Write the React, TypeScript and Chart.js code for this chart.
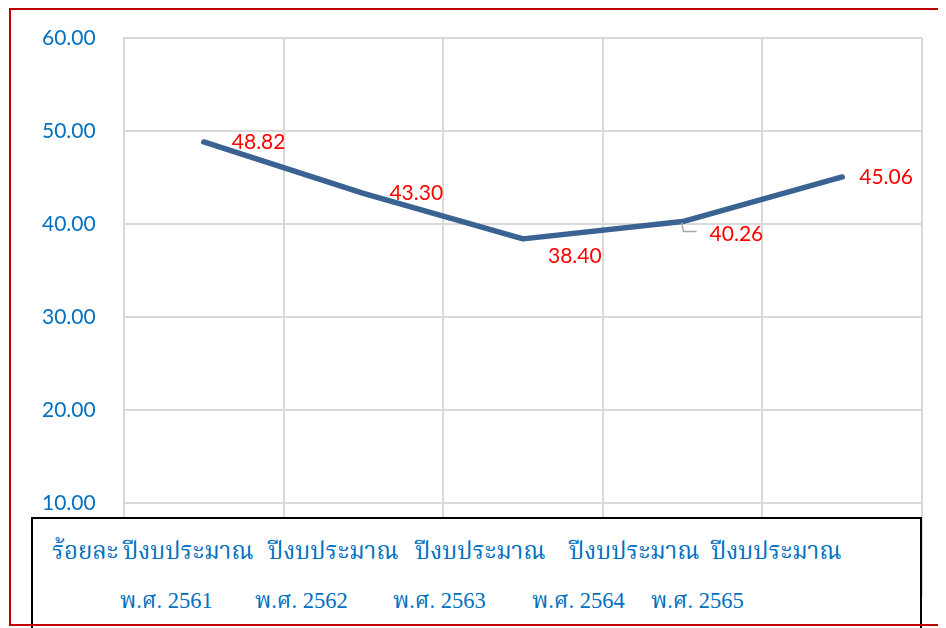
import React, { useEffect, useRef } from "react";
import { Chart, registerables } from "chart.js";

Chart.register(...registerables);

// ---- data ----
const categories = ["พ.ศ. 2561", "พ.ศ. 2562", "พ.ศ. 2563", "พ.ศ. 2564", "พ.ศ. 2565"];
const values = [48.82, 43.3, 38.4, 40.26, 45.06];
const yMin = 0;
const yMax = 60;
const yStep = 10;
const unitLabel = "ร้อยละ";
const yearPrefix = "ปีงบประมาณ";

// ---- styles ----
const LINE_COLOR = "#3A6394";
const TICK_COLOR = "#0070C0";
const LABEL_COLOR = "#FF0000";
const GRID_COLOR = "#D9D9D9";
const NUM_FONT = "Lato, 'Open Sans', sans-serif";
const THAI_FONT =
  "'Liberation Serif', 'Noto Serif Thai', Norasi, Kinnari, 'Tlwg Typo', 'Noto Sans Thai Looped', 'Noto Sans Thai', serif";
const labelOffsets = [
  [28, 0],
  [26, 0],
  [25, 17],
  [27, 13],
  [17, 0],
];
const row1Left = [19, 90, 235, 382, 536, 678];
const row2Left = [87, 222, 360, 499, 618];

const dataLabelPlugin = {
  id: "dataLabels",
  afterDatasetsDraw(chart: any) {
    const ctx = chart.ctx;
    const meta = chart.getDatasetMeta(0);
    ctx.save();
    ctx.font = `21px ${NUM_FONT}`;
    ctx.fillStyle = LABEL_COLOR;
    ctx.textAlign = "left";
    ctx.textBaseline = "middle";
    meta.data.forEach((pt: any, i: number) => {
      const [dx, dy] = labelOffsets[i];
      ctx.fillText(values[i].toFixed(2), pt.x + dx, pt.y + dy);
      if (i === 3) {
        ctx.strokeStyle = "#A6A6A6";
        ctx.lineWidth = 1.5;
        ctx.beginPath();
        ctx.moveTo(pt.x - 1, pt.y + 1);
        ctx.lineTo(pt.x + 1, pt.y + 10);
        ctx.lineTo(pt.x + 14, pt.y + 10);
        ctx.stroke();
      }
    });
    ctx.restore();
  },
};

export default function App() {
  const canvasRef = useRef<HTMLCanvasElement | null>(null);

  useEffect(() => {
    document.body.style.overflow = "hidden";
    document.documentElement.style.overflow = "hidden";
    const canvas = canvasRef.current!;
    const chart = new Chart(canvas, {
      type: "line",
      data: {
        labels: categories,
        datasets: [
          {
            data: values,
            borderColor: LINE_COLOR,
            borderWidth: 5.5,
            pointRadius: 0,
            pointHoverRadius: 0,
            tension: 0,
            borderCapStyle: "round",
            borderJoinStyle: "round",
          },
        ],
      },
      options: {
        animation: false,
        responsive: false,
        devicePixelRatio: 1,
        layout: { padding: { left: 34, right: 24, top: 30, bottom: 32 } },
        plugins: { legend: { display: false }, tooltip: { enabled: false } },
        scales: {
          x: {
            offset: true,
            grid: { offset: true, color: GRID_COLOR, lineWidth: 2, drawTicks: false },
            border: { display: false },
            ticks: { display: false, padding: 0 },
            afterFit: (s: any) => {
              s.height = 0;
            },
          },
          y: {
            min: yMin,
            max: yMax,
            ticks: {
              stepSize: yStep,
              color: TICK_COLOR,
              font: { family: NUM_FONT, size: 21 },
              padding: 0,
              crossAlign: "far",
              callback: (v: any) => Number(v).toFixed(2),
            },
            grid: { color: GRID_COLOR, lineWidth: 2, drawTicks: false },
            border: { display: true, color: GRID_COLOR, width: 2 },
            afterFit: (s: any) => {
              s.width = 82;
            },
          },
        },
      },
      plugins: [dataLabelPlugin],
    });
    return () => chart.destroy();
  }, []);

  const textStyle: React.CSSProperties = {
    position: "absolute",
    color: TICK_COLOR,
    fontFamily: THAI_FONT,
    whiteSpace: "nowrap",
  };

  return (
    <div style={{ position: "relative", width: 938, height: 620, overflow: "hidden" }}>
      <canvas
        ref={canvasRef}
        width={938}
        height={620}
        style={{ position: "absolute", left: 0, top: 0, width: 938, height: 620 }}
      />
      <div
        style={{
          position: "absolute",
          left: 23,
          top: 509,
          width: 891,
          height: 140,
          boxSizing: "border-box",
          border: "2px solid #000",
          background: "#fff",
        }}
      >
        {[unitLabel, ...categories.map(() => yearPrefix)].map((t, i) => (
          <span key={"a" + i} style={{ ...textStyle, left: row1Left[i], top: 14, fontSize: 24 }}>
            {t}
          </span>
        ))}
        {categories.map((t, i) => (
          <span key={"b" + i} style={{ ...textStyle, left: row2Left[i], top: 65, fontSize: 22.5 }}>
            {t}
          </span>
        ))}
      </div>
      <div
        style={{
          position: "absolute",
          left: 1,
          top: 0,
          width: 937,
          height: 618,
          boxSizing: "border-box",
          borderTop: "2px solid #C00000",
          borderLeft: "2px solid #C00000",
          borderBottom: "2px solid #C00000",
          pointerEvents: "none",
        }}
      />
    </div>
  );
}
